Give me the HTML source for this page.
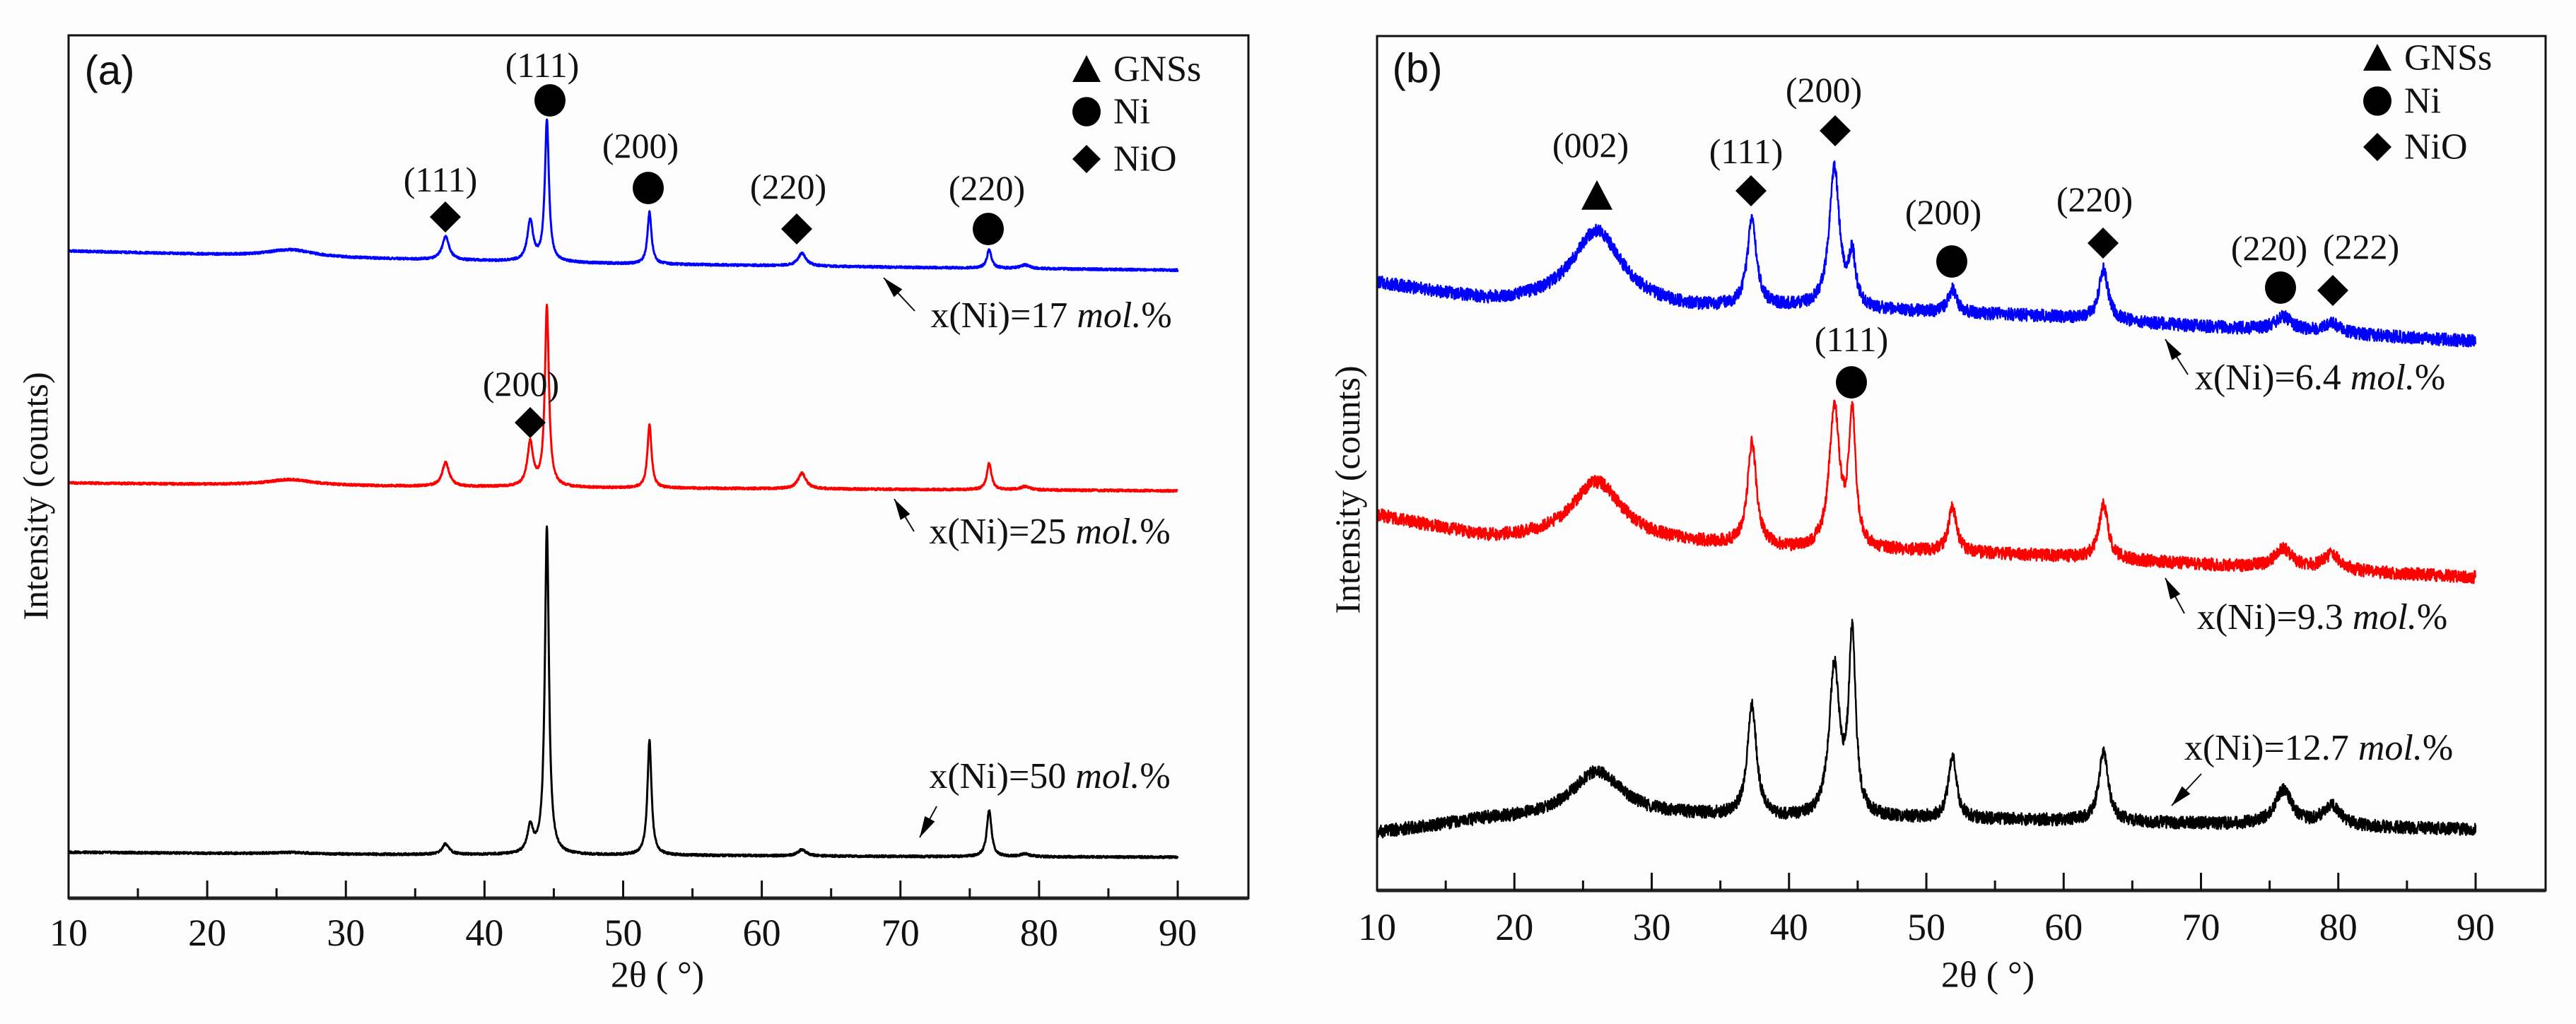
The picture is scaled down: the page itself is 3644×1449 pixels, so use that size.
<!DOCTYPE html>
<html><head><meta charset="utf-8"><style>
html,body{margin:0;padding:0;background:#fff;}
svg{display:block;}
</style></head><body>
<svg id="fig" width="3644" height="1449" viewBox="0 0 3644 1449" xmlns="http://www.w3.org/2000/svg" font-family="'Liberation Serif', serif">
<rect x="0" y="0" width="3644" height="1449" fill="#fdfdfd"/>
<g id="pa"></g>
<g id="pb"></g>
</svg>
<script>
// ---- data (2θ in degrees, intensity in arbitrary counts) ----
const xTicks = [10,20,30,40,50,60,70,80,90];
const xTickLabels = ["10","20","30","40","50","60","70","80","90"];
// Panel (a) baselines
const aBaseX = [10, 30, 50, 70, 90];
const aBlueBase = [915, 905, 897, 892, 888];
const aRedBase = [587, 583, 580, 578, 576];
const aBlackBase = [65, 62, 61, 59, 58];
// peaks: positions, heights, widths (FWHM)
const aPeakPos = [26, 37.2, 43.3, 44.5, 51.9, 62.9, 76.4, 79.0];
const aPeakW = [4, 0.6, 0.5, 0.35, 0.35, 0.7, 0.4, 0.8];
const aBlueH = [10, 33, 57, 200, 73, 18, 26, 5];
const aRedH = [8, 34, 62, 254, 90, 22, 38, 5];
const aBlackH = [2, 15, 37, 463, 162, 9, 66, 4];
// Panel (b)
const bBaseX = [10, 18, 33, 40, 48, 58, 70, 90];
const bBlueBase = [867, 840, 828, 830, 826, 820, 805, 784];
const bRedBase = [535, 502, 493, 484, 484, 478, 465, 447];
const bBlackBase = [82, 100, 105, 100, 102, 100, 95, 87];
const bPeakPos = [26, 37.3, 43.3, 44.6, 51.9, 62.9, 76.0, 79.5];
const bPeakW = [4.5, 0.8, 0.9, 0.6, 0.7, 0.8, 1.5, 1.5];
const bBlueH = [108, 125, 200, 70, 34, 72, 20, 14];
const bRedH = [86, 148, 200, 190, 64, 78, 28, 22];
const bBlackH = [67, 160, 215, 255, 90, 100, 50, 30];

const NS = "http://www.w3.org/2000/svg";
const SERIF = "Liberation Serif, serif";
function mk(parent, tag, attrs, text){
  const e = document.createElementNS(NS, tag);
  if (tag === "text") e.setAttribute("font-family", SERIF);
  for (const k in attrs) e.setAttribute(k, attrs[k]);
  if (text !== undefined) e.textContent = text;
  parent.appendChild(e);
  return e;
}
function interp(xs, ys, x){
  if (x <= xs[0]) return ys[0];
  for (let i=1;i<xs.length;i++){
    if (x <= xs[i]){ const t=(x-xs[i-1])/(xs[i]-xs[i-1]); return ys[i-1]+t*(ys[i]-ys[i-1]); }
  }
  return ys[ys.length-1];
}
function texture(i, seed){ // deterministic rendering texture
  const s = Math.sin(i*12.9898 + seed*78.233)*43758.5453;
  return (s - Math.floor(s)) - 0.5;
}
function makePanel(g, P){
  const sx = v => P.left + (v-10)/(90-10)*(P.x90-P.left);
  const sy = v => P.bottom - v*(P.bottom-P.top)/1220;
  P.series.forEach((s, si) => {
    let d = "";
    let i = 0;
    for (let x=10; x<=90.0001; x+=0.02, i++){
      let y = interp(P.baseX, s.base, x);
      for (let k=0;k<P.peakPos.length;k++){
        const hw = P.peakW[k]/2, dx = (x-P.peakPos[k])/hw;
        y += s.h[k]/(1+dx*dx);
      }
      y += texture(i, si+P.seed)*s.noise;
      d += (i? "L":"M") + sx(x).toFixed(1) + " " + sy(y).toFixed(1);
    }
    const p = mk(g, "path", {d, fill:"none", stroke:s.color, "stroke-width":s.sw||3, "stroke-linejoin":"round"});
    
    
  });
  const fr = mk(g, "rect", {x:P.left, y:P.top, width:P.right-P.left, height:P.bottom-P.top, fill:"none", stroke:"#111", "stroke-width":3});
  
  
  const ax = mk(g, "line", {x1:P.left, y1:P.bottom, x2:P.right, y2:P.bottom, stroke:"#222", "stroke-width":5});
  
  
  for (let v=15; v<90; v+=10){
    const t = mk(g, "line", {x1:sx(v), y1:P.bottom, x2:sx(v), y2:P.bottom-14, stroke:"#111", "stroke-width":3});
    
    
  }
  xTicks.forEach((v, k) => {
    const t = mk(g, "line", {x1:sx(v), y1:P.bottom, x2:sx(v), y2:P.bottom-25, stroke:"#111", "stroke-width":3});
    
    
    const l = mk(g, "text", {x:sx(v), y:P.tickY, "font-size":54, "text-anchor":"middle", fill:"#111"}, xTickLabels[k]);
    
    
  });
}
function marker(g, type, cx, cy, s){
  let e;
  if (type==="circle") e = mk(g, "ellipse", {cx, cy, rx:s*0.5, ry:s*0.52, fill:"#000"});
  else if (type==="diamond") e = mk(g, "path", {d:`M${cx} ${cy-s*0.5}L${cx+s*0.5} ${cy}L${cx} ${cy+s*0.5}L${cx-s*0.5} ${cy}Z`, fill:"#000"});
  else e = mk(g, "path", {d:`M${cx} ${cy-s*0.5}L${cx+s*0.5} ${cy+s*0.45}L${cx-s*0.5} ${cy+s*0.45}Z`, fill:"#000"});
  
  
}
function label(g, x, y, txt, size, name){
  const t = mk(g, "text", {x, y, "font-size":size, "text-anchor":"middle", "dominant-baseline":"central", fill:"#111"}, txt);
  
  
  return t;
}
function comp(g, cx, cy, num, name){
  const t = mk(g, "text", {x:cx, y:cy, "font-size":52, "text-anchor":"middle", "dominant-baseline":"central", fill:"#111"});
  
  
  mk(t, "tspan", {}, "x(Ni)=" + num + " ");
  mk(t, "tspan", {"font-style":"italic"}, "mol.");
  mk(t, "tspan", {}, "%");
}
function arrow(g, x1, y1, x2, y2){
  const l = mk(g, "line", {x1, y1, x2, y2, stroke:"#111", "stroke-width":2});
  
  
  const ang = Math.atan2(y2-y1, x2-x1), L=30, W=8;
  const bx = x2 - L*Math.cos(ang), by = y2 - L*Math.sin(ang);
  const h = mk(g, "path", {d:`M${x2} ${y2}L${bx+W*Math.sin(ang)} ${by-W*Math.cos(ang)}L${bx-W*Math.sin(ang)} ${by+W*Math.cos(ang)}Z`, fill:"#000"});
  
  
}
function legend(g, x, ys){
  const items = [["triangle","GNSs"],["circle","Ni"],["diamond","NiO"]];
  items.forEach((it,k)=>{
    marker(g, it[0], x, ys[k], 40);
    const t = mk(g, "text", {x:x+38, y:ys[k], "font-size":52, "dominant-baseline":"central", fill:"#111"}, it[1]);
    
    
  });
}
function ytitle(g, x, y){
  const t = mk(g,"text",{x:0,y:0,"font-size":50,"text-anchor":"middle","dominant-baseline":"central",fill:"#111",transform:`translate(${x},${y}) rotate(-90)`},"Intensity (counts)");
  
  
}

// Panel a
const ga = document.getElementById("pa");
makePanel(ga, {left:97, right:1766, x90:1666, top:50, bottom:1271, tickY:1338, seed:1,
  baseX:aBaseX, peakPos:aPeakPos, peakW:aPeakW,
  series:[
    {name:"series-x17-blue", color:"#0000ff", base:aBlueBase, h:aBlueH, noise:3},
    {name:"series-x25-red", color:"#ff0000", base:aRedBase, h:aRedH, noise:3},
    {name:"series-x50-black", color:"#000000", base:aBlackBase, h:aBlackH, noise:3}
  ]});
label(ga, 155, 100, "(a)", 58, "panel-label-a").setAttribute("font-family","Liberation Sans, sans-serif");
ytitle(ga, 50, 702);
label(ga, 930, 1380, "2θ ( °)", 52, "x-axis-title");
label(ga, 767, 92, "(111)", 50, "peak-label"); marker(ga,"circle",778,142,44);
label(ga, 906, 206, "(200)", 50, "peak-label"); marker(ga,"circle",917,266,44);
label(ga, 623, 254, "(111)", 50, "peak-label"); marker(ga,"diamond",630,307,44);
label(ga, 1115, 264, "(220)", 50, "peak-label"); marker(ga,"diamond",1127,324,44);
label(ga, 1396, 266, "(220)", 50, "peak-label"); marker(ga,"circle",1398,324,44);
label(ga, 737, 543, "(200)", 50, "peak-label"); marker(ga,"diamond",750,598,44);
legend(ga, 1537, [98,158,225]);
comp(ga, 1487, 446, "17", "series-label-x17"); arrow(ga, 1294, 440, 1250, 393);
comp(ga, 1485, 752, "25", "series-label-x25"); arrow(ga, 1293, 752, 1265, 706);
comp(ga, 1485, 1098, "50", "series-label-x50"); arrow(ga, 1325, 1141, 1301, 1185);

// Panel b
const gb = document.getElementById("pb");
makePanel(gb, {left:1948, right:3601, x90:3502, top:51, bottom:1260, tickY:1330, seed:7,
  baseX:bBaseX, peakPos:bPeakPos, peakW:bPeakW,
  series:[
    {name:"series-x6.4-blue", color:"#0000ff", base:bBlueBase, h:bBlueH, noise:18, sw:2.5},
    {name:"series-x9.3-red", color:"#ff0000", base:bRedBase, h:bRedH, noise:18, sw:2.5},
    {name:"series-x12.7-black", color:"#000000", base:bBlackBase, h:bBlackH, noise:18, sw:2.5}
  ]});
label(gb, 2005, 97, "(b)", 58, "panel-label-b").setAttribute("font-family","Liberation Sans, sans-serif");
ytitle(gb, 1906, 693);
label(gb, 2812, 1380, "2θ ( °)", 52, "x-axis-title");
label(gb, 2250, 205, "(002)", 50, "peak-label"); marker(gb,"triangle",2259,277,44);
label(gb, 2470, 214, "(111)", 50, "peak-label"); marker(gb,"diamond",2477,270,44);
label(gb, 2580, 127, "(200)", 50, "peak-label"); marker(gb,"diamond",2596,185,44);
label(gb, 2749, 300, "(200)", 50, "peak-label"); marker(gb,"circle",2761,370,44);
label(gb, 2963, 282, "(220)", 50, "peak-label"); marker(gb,"diamond",2975,344,44);
label(gb, 3210, 351, "(220)", 50, "peak-label"); marker(gb,"circle",3226,407,44);
label(gb, 3340, 349, "(222)", 50, "peak-label"); marker(gb,"diamond",3300,411,44);
label(gb, 2619, 480, "(111)", 50, "peak-label"); marker(gb,"circle",2619,541,44);
legend(gb, 3363, [82,143,208]);
comp(gb, 3282, 534, "6.4", "series-label-x6.4"); arrow(gb, 3095, 530, 3063, 480);
comp(gb, 3285, 873, "9.3", "series-label-x9.3"); arrow(gb, 3090, 868, 3063, 818);
comp(gb, 3280, 1058, "12.7", "series-label-x12.7"); arrow(gb, 3114, 1095, 3072, 1140);
</script>
</body></html>
